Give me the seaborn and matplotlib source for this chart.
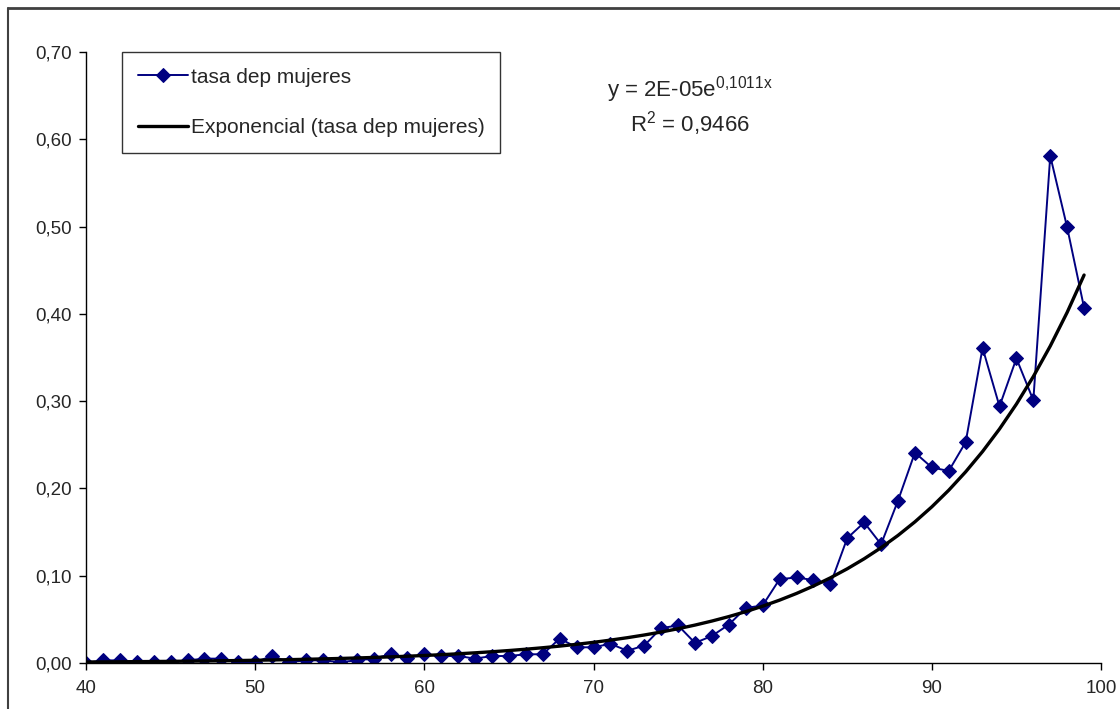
import numpy as np
import matplotlib
matplotlib.use("Agg")
import matplotlib.pyplot as plt
from matplotlib.lines import Line2D
import pandas as pd
import seaborn as sns

# edad y tasa de dependencia (mujeres)
edad = list(range(40, 100))
tasa = [0.000, 0.003, 0.003, 0.001, 0.001, 0.001, 0.003, 0.005, 0.005, 0.001,
        0.001, 0.008, 0.001, 0.003, 0.003, 0.001, 0.003, 0.005, 0.010, 0.006,
        0.010, 0.008, 0.008, 0.005, 0.008, 0.008, 0.010, 0.010, 0.028, 0.018,
        0.018, 0.022, 0.014, 0.020, 0.040, 0.043, 0.023, 0.031, 0.044, 0.063,
        0.066, 0.096, 0.098, 0.095, 0.090, 0.143, 0.161, 0.136, 0.186, 0.241,
        0.224, 0.220, 0.253, 0.361, 0.294, 0.349, 0.301, 0.581, 0.499, 0.407]

# tendencia exponencial (segun la etiqueta del grafico)
trend_a = 2e-05
trend_b = 0.1011
r2 = "0,9466"

yticks = [0.0, 0.1, 0.2, 0.3, 0.4, 0.5, 0.6, 0.7]
xticks = [40, 50, 60, 70, 80, 90, 100]

df = pd.DataFrame({"edad": edad, "tasa": tasa})
df["tendencia"] = trend_a * np.exp(trend_b * df["edad"])

sns.set_style("white")
plt.rcParams["font.family"] = ["Liberation Sans", "DejaVu Sans"]

fig = plt.figure(figsize=(11.2, 7.09), dpi=100)
ax = fig.add_axes([86 / 1120, 1 - 663 / 709, (1101 - 86) / 1120, (663 - 52) / 709])

sns.lineplot(data=df, x="edad", y="tasa", ax=ax, color="#000080", linewidth=1.4,
             marker="D", markersize=7.5, markeredgecolor="#000080",
             label="tasa dep mujeres")
sns.lineplot(data=df, x="edad", y="tendencia", ax=ax, color="black", linewidth=2.4,
             label="Exponencial (tasa dep mujeres)")

ax.set_xlim(40, 100)
ax.set_ylim(0, 0.70)
ax.set_xticks(xticks)
ax.set_yticks(yticks)
ax.set_yticklabels([f"{v:.2f}".replace(".", ",") for v in yticks])
ax.set_xlabel("")
ax.set_ylabel("")
for s in ["top", "right"]:
    ax.spines[s].set_visible(False)
for s in ["left", "bottom"]:
    ax.spines[s].set_color("black")
    ax.spines[s].set_linewidth(1.0)
ax.tick_params(axis="both", direction="out", length=5, width=1, color="black",
               labelsize=13.5, bottom=True, left=True)
ax.tick_params(axis="x", pad=7)
ax.tick_params(axis="y", pad=5)

leg = ax.legend(loc="upper left", bbox_to_anchor=(122 / 1120, 1 - 52 / 709),
                bbox_transform=fig.transFigure, fontsize=15, frameon=True,
                fancybox=False, edgecolor="black", handlelength=2.4,
                handletextpad=0.15, labelspacing=1.5, borderpad=0.75,
                borderaxespad=0)
leg.get_frame().set_linewidth(1.0)

ax.text(690 / 1120, 1 - 90 / 709, r"y = 2E-05e$\mathregular{^{0{,}1011x}}$",
        transform=fig.transFigure, ha="center", va="center", fontsize=16)
ax.text(690 / 1120, 1 - 124 / 709, r"R$\mathregular{^2}$ = " + r2,
        transform=fig.transFigure, ha="center", va="center", fontsize=16)

# marco del area del grafico
fig.add_artist(Line2D([7.5 / 1120, 1.0], [1 - 8 / 709, 1 - 8 / 709],
                      transform=fig.transFigure, color="#404040", linewidth=2))
fig.add_artist(Line2D([7.5 / 1120, 7.5 / 1120], [0, 1 - 8 / 709],
                      transform=fig.transFigure, color="#404040", linewidth=1.5))

fig.savefig("out.png", dpi=100)
